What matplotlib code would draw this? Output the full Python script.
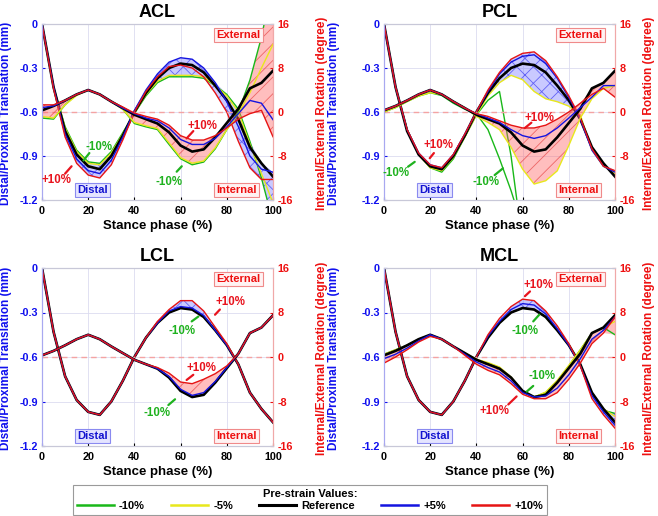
import numpy as np
import matplotlib
matplotlib.use("Agg")
import matplotlib.pyplot as plt
from matplotlib.lines import Line2D

plt.rcParams["font.family"] = ["Liberation Sans", "DejaVu Sans"]
plt.rcParams["font.weight"] = "bold"
plt.rcParams["axes.unicode_minus"] = False
plt.rcParams["hatch.linewidth"] = 0.6

nan = np.nan

# stance phase (%)
X = [0, 5, 10, 15, 20, 25, 30, 35, 40, 45, 50, 55, 60, 65, 70, 75, 80, 85, 90, 95, 100]

# reference model (same in every panel): translation (mm), rotation (degree)
REF_T = [0.00, -0.43, -0.73, -0.89, -0.97, -0.99, -0.90, -0.76, -0.60, -0.47, -0.37,
         -0.30, -0.27, -0.28, -0.33, -0.42, -0.52, -0.65, -0.84, -0.95, -1.04]
REF_R = [0.3, 1.1, 2.1, 3.2, 4.0, 3.2, 1.9, 0.7, -0.5, -1.3, -2.1,
         -3.7, -6.1, -7.2, -6.8, -4.6, -2.0, 0.6, 4.3, 5.3, 7.5]

# ACL
ACL_T_M10 = [0.00, -0.43, -0.70, -0.86, -0.94, -0.95, -0.87, -0.74, -0.61, -0.49, -0.40,
             -0.36, -0.36, -0.36, -0.37, -0.42, -0.48, -0.58, -0.80, -1.05, -1.35]
ACL_T_M5 = [0.00, -0.43, -0.71, -0.87, -0.95, -0.96, -0.88, -0.75, -0.61, -0.48, -0.39,
            -0.35, -0.35, -0.35, -0.36, -0.42, -0.49, -0.60, -0.82, -1.02, -1.22]
ACL_T_P5 = [0.00, -0.43, -0.75, -0.92, -1.00, -1.02, -0.93, -0.77, -0.59, -0.45, -0.34,
            -0.26, -0.23, -0.24, -0.30, -0.40, -0.53, -0.70, -0.90, -0.99, -1.01]
ACL_T_P10 = [0.00, -0.44, -0.77, -0.95, -1.03, -1.05, -0.96, -0.79, -0.60, -0.46, -0.36,
             -0.29, -0.28, -0.30, -0.36, -0.47, -0.60, -0.80, -0.98, -1.06, -1.06]
ACL_R_M10 = [-1.1, -1.3, 1.3, 3.2, 4.0, 3.2, 1.9, 0.5, -2.1, -2.7, -3.2,
             -5.9, -8.5, -9.6, -9.1, -6.7, -3.2, 0.0, 5.8, 13.6, 24.0]
ACL_R_M5 = [-0.8, -1.1, 1.3, 3.0, 4.0, 3.2, 1.9, 0.5, -1.9, -2.5, -3.0,
            -5.6, -8.3, -9.3, -8.9, -6.5, -3.2, -0.3, 3.5, 8.0, 12.3]
ACL_R_P5 = [0.8, 1.1, 2.1, 3.2, 4.0, 3.2, 1.9, 0.7, -0.3, -1.1, -1.6,
            -2.9, -5.0, -5.9, -5.9, -4.8, -2.7, -0.3, 2.1, 1.6, -1.4]
ACL_R_P10 = [1.3, 1.3, 2.1, 3.2, 4.0, 3.2, 1.9, 0.9, -0.2, -0.8, -1.3,
             -2.4, -4.3, -5.1, -5.1, -4.3, -2.9, -1.3, -0.3, 0.3, -4.5]

# PCL
PCL_T_M10 = [0.00, -0.43, -0.72, -0.89, -0.98, -1.01, -0.92, -0.77, -0.62, -0.52, -0.46,
             -0.90, -1.50, nan, nan, nan, nan, nan, nan, nan, nan]
PCL_T_M5 = [0.00, -0.43, -0.72, -0.89, -0.98, -1.00, -0.91, -0.77, -0.62, -0.49, -0.40,
            -0.35, -0.38, -0.46, -0.51, -0.53, -0.56, -0.62, -0.86, -0.97, -1.02]
PCL_T_P5 = [0.00, -0.43, -0.72, -0.88, -0.96, -0.98, -0.89, -0.75, -0.60, -0.46, -0.34,
            -0.26, -0.22, -0.21, -0.27, -0.37, -0.50, -0.65, -0.86, -0.97, -1.01]
PCL_T_P10 = [0.00, -0.43, -0.72, -0.88, -0.96, -0.98, -0.89, -0.75, -0.60, -0.45, -0.33,
             -0.24, -0.20, -0.19, -0.25, -0.36, -0.49, -0.64, -0.85, -0.97, -1.00]
PCL_R_M10 = [0.0, 0.8, 1.9, 2.9, 3.5, 3.0, 1.6, 0.5, -0.3, -3.2, -8.5,
             -14.3, -21.0, nan, nan, nan, nan, nan, nan, nan, nan]
PCL_R_M5 = [0.0, 0.8, 1.9, 2.9, 3.5, 3.2, 1.9, 0.8, -0.8, -1.9, -3.2,
            -6.4, -10.4, -13.1, -12.5, -10.7, -6.1, -1.1, 2.4, 4.3, 4.8]
PCL_R_P5 = [0.3, 1.1, 2.1, 3.2, 4.0, 3.2, 1.9, 0.7, -0.3, -1.1, -1.9,
            -3.2, -4.3, -4.8, -4.3, -2.9, -1.1, 0.8, 2.7, 4.8, 4.8]
PCL_R_P10 = [0.3, 1.1, 2.1, 3.2, 4.0, 3.2, 1.9, 0.7, -0.3, -0.8, -1.6,
             -2.4, -2.9, -2.9, -2.4, -1.3, 0.0, 1.6, 3.2, 4.3, 2.7]

# LCL
LCL_T_M10 = [0.00, -0.43, -0.73, -0.89, -0.97, -0.99, -0.90, -0.76, -0.60, -0.47, -0.37,
             -0.30, -0.27, -0.28, -0.33, -0.42, -0.52, -0.65, -0.84, -0.95, -1.04]
LCL_T_M5 = [0.00, -0.43, -0.73, -0.89, -0.97, -0.99, -0.90, -0.76, -0.60, -0.47, -0.37,
            -0.30, -0.27, -0.28, -0.33, -0.42, -0.52, -0.65, -0.84, -0.95, -1.04]
LCL_T_P5 = [0.00, -0.43, -0.73, -0.89, -0.97, -0.99, -0.90, -0.76, -0.60, -0.47, -0.37,
            -0.29, -0.26, -0.27, -0.32, -0.42, -0.52, -0.65, -0.84, -0.95, -1.04]
LCL_T_P10 = [0.00, -0.43, -0.73, -0.89, -0.97, -0.99, -0.90, -0.76, -0.60, -0.47, -0.36,
             -0.28, -0.22, -0.22, -0.29, -0.40, -0.51, -0.65, -0.84, -0.95, -1.04]
LCL_R_M10 = [0.3, 1.1, 2.1, 3.2, 4.0, 3.2, 1.9, 0.7, -0.5, -1.3, -2.1,
             -3.7, -6.1, -7.2, -6.8, -4.6, -2.0, 0.6, 4.3, 5.3, 7.5]
LCL_R_M5 = [0.3, 1.1, 2.1, 3.2, 4.0, 3.2, 1.9, 0.7, -0.5, -1.3, -2.1,
            -3.7, -6.1, -7.2, -6.8, -4.6, -2.0, 0.6, 4.3, 5.3, 7.5]
LCL_R_P5 = [0.3, 1.1, 2.1, 3.2, 4.0, 3.2, 1.9, 0.7, -0.5, -1.3, -2.1,
            -3.5, -5.8, -6.9, -6.4, -4.4, -1.9, 0.6, 4.3, 5.3, 7.5]
LCL_R_P10 = [0.3, 1.1, 2.1, 3.2, 4.0, 3.2, 1.9, 0.7, -0.5, -1.3, -1.9,
             -2.9, -4.5, -4.8, -4.0, -3.0, -1.6, 0.6, 4.3, 5.3, 7.5]

# MCL
MCL_T_M10 = [0.00, -0.43, -0.73, -0.89, -0.97, -0.99, -0.90, -0.76, -0.60, -0.47, -0.37,
             -0.30, -0.27, -0.28, -0.33, -0.42, -0.52, -0.65, -0.84, -0.96, -0.98]
MCL_T_M5 = [0.00, -0.43, -0.73, -0.89, -0.97, -0.99, -0.90, -0.76, -0.60, -0.47, -0.37,
            -0.30, -0.27, -0.28, -0.33, -0.42, -0.52, -0.65, -0.84, -0.95, -1.00]
MCL_T_P5 = [0.00, -0.43, -0.73, -0.89, -0.97, -0.99, -0.90, -0.76, -0.60, -0.46, -0.36,
            -0.28, -0.24, -0.25, -0.31, -0.41, -0.52, -0.66, -0.86, -0.97, -1.06]
MCL_T_P10 = [0.00, -0.43, -0.73, -0.89, -0.97, -0.99, -0.90, -0.76, -0.60, -0.45, -0.34,
             -0.26, -0.21, -0.22, -0.29, -0.39, -0.51, -0.66, -0.88, -0.99, -1.08]
MCL_R_M10 = [0.5, 1.3, 2.1, 3.2, 4.0, 3.2, 1.9, 0.7, -0.5, -1.1, -1.9,
             -3.7, -6.1, -7.2, -6.4, -4.3, -1.6, 1.3, 4.3, 5.3, 4.0]
MCL_R_M5 = [0.5, 1.3, 2.1, 3.2, 4.0, 3.2, 1.9, 0.7, -0.4, -1.0, -1.8,
            -3.6, -6.1, -7.2, -6.3, -4.2, -1.5, 1.3, 4.3, 5.3, 6.4]
MCL_R_P5 = [-0.3, 0.5, 1.6, 2.9, 4.0, 3.2, 1.9, 0.5, -0.9, -1.9, -2.7,
            -4.3, -6.4, -7.2, -7.0, -5.6, -3.2, -0.3, 3.2, 4.8, 7.2]
MCL_R_P10 = [-1.1, 0.0, 1.3, 2.7, 3.7, 3.2, 1.9, 0.3, -1.3, -2.4, -3.2,
             -4.8, -6.7, -7.5, -7.5, -6.4, -4.0, -1.1, 2.4, 4.3, 7.2]

STRAINS = ["-10%", "-5%", "Reference", "+5%", "+10%"]
COLORS = ["#19b819", "#e8e81c", "black", "#1414e0", "#e61414"]
WIDTHS = [1.0, 1.0, 1.9, 1.0, 1.0]

PANELS = ["ACL", "PCL", "LCL", "MCL"]
TRANS = {
    "ACL": [ACL_T_M10, ACL_T_M5, REF_T, ACL_T_P5, ACL_T_P10],
    "PCL": [PCL_T_M10, PCL_T_M5, REF_T, PCL_T_P5, PCL_T_P10],
    "LCL": [LCL_T_M10, LCL_T_M5, REF_T, LCL_T_P5, LCL_T_P10],
    "MCL": [MCL_T_M10, MCL_T_M5, REF_T, MCL_T_P5, MCL_T_P10],
}
ROT = {
    "ACL": [ACL_R_M10, ACL_R_M5, REF_R, ACL_R_P5, ACL_R_P10],
    "PCL": [PCL_R_M10, PCL_R_M5, REF_R, PCL_R_P5, PCL_R_P10],
    "LCL": [LCL_R_M10, LCL_R_M5, REF_R, LCL_R_P5, LCL_R_P10],
    "MCL": [MCL_R_M10, MCL_R_M5, REF_R, MCL_R_P5, MCL_R_P10],
}
# PCL -10% run failed, so it is left out of the shaded range
FILL_ROWS = {"ACL": [0, 1, 2, 3, 4], "PCL": [1, 2, 3, 4],
             "LCL": [0, 1, 2, 3, 4], "MCL": [0, 1, 2, 3, 4]}

# labels: text, colour, text position, line start, line end (x in %, y in mm)
NOTES = {
    "ACL": [("-10%", "g", (24.7, -0.836), (20.5, -0.88), (18.0, -0.93)),
            ("+10%", "r", (6.3, -1.063), (10.0, -1.02), (12.8, -0.97)),
            ("+10%", "r", (69.5, -0.695), (65.5, -0.73), (62.6, -0.78)),
            ("-10%", "g", (55.0, -1.075), (58.3, -1.007), (60.5, -0.97))],
    "PCL": [("+10%", "r", (23.4, -0.825), (21.6, -0.88), (19.8, -0.915)),
            ("-10%", "g", (5.3, -1.018), (10.4, -0.973), (13.3, -0.94)),
            ("-10%", "g", (44.3, -1.075), (47.9, -1.03), (51.5, -0.984)),
            ("+10%", "r", (67.4, -0.643), (63.8, -0.673), (60.9, -0.71))],
    "LCL": [("+10%", "r", (81.4, -0.232), (77.0, -0.28), (74.9, -0.315)),
            ("-10%", "g", (60.5, -0.428), (64.8, -0.36), (67.7, -0.327)),
            ("+10%", "r", (69.1, -0.676), (65.5, -0.72), (62.6, -0.755)),
            ("-10%", "g", (50.0, -0.98), (54.7, -0.924), (57.6, -0.885))],
    "MCL": [("+10%", "r", (66.8, -0.113), (63.2, -0.158), (61.0, -0.19)),
            ("-10%", "g", (61.0, -0.427), (64.6, -0.36), (67.2, -0.315)),
            ("-10%", "g", (68.3, -0.73), (64.6, -0.795), (61.8, -0.833)),
            ("+10%", "r", (48.0, -0.967), (53.8, -0.92), (57.4, -0.866))],
}
NOTE_COLORS = {"g": "#1fb21f", "r": "#e8141e"}

W, H = 658, 516
AX_POS = {
    "ACL": [42 / W, 1 - 200 / H, 231 / W, 176 / H],
    "PCL": [384 / W, 1 - 200 / H, 231 / W, 176 / H],
    "LCL": [42 / W, 1 - 446 / H, 231 / W, 178 / H],
    "MCL": [384 / W, 1 - 446 / H, 231 / W, 178 / H],
}
# y-label anchor distance from the axes (px): (left label, right label)
LABEL_OFF = {"ACL": (30, 43), "PCL": (44, 28), "LCL": (30, 43), "MCL": (44, 28)}

fig = plt.figure(figsize=(W / 100, H / 100), dpi=100)

for name in PANELS:
    ax = fig.add_axes(AX_POS[name])
    ax2 = ax.twinx()

    T = np.array(TRANS[name], dtype=float)
    R = np.array(ROT[name], dtype=float)
    rows = FILL_ROWS[name]

    # translation (left axis)
    ax.fill_between(X, np.nanmin(T[rows], axis=0), np.nanmax(T[rows], axis=0),
                    facecolor=(0.45, 0.45, 1.0, 0.38), edgecolor=(0.25, 0.25, 0.95, 0.75),
                    hatch="xx", linewidth=0, zorder=1)
    for arr, c, lw in zip(T, COLORS, WIDTHS):
        ax.plot(X, arr, color=c, lw=lw, zorder=2)

    # rotation (right axis)
    ax2.axhline(0, color="#f4a3a3", lw=1.0, ls=(0, (4, 3)), zorder=0)
    ax2.fill_between(X, np.nanmin(R[rows], axis=0), np.nanmax(R[rows], axis=0),
                     facecolor=(1.0, 0.4, 0.4, 0.42), edgecolor=(0.9, 0.25, 0.25, 0.7),
                     hatch="//", linewidth=0, zorder=1)
    for arr, c, lw in zip(R, COLORS, WIDTHS):
        ax2.plot(X, arr, color=c, lw=lw, zorder=2)

    ax.set_xlim(0, 100)
    ax.set_ylim(-1.2, 0)
    ax2.set_ylim(-16, 16)
    ax.set_xticks([0, 20, 40, 60, 80, 100])
    ax.set_yticks([-1.2, -0.9, -0.6, -0.3, 0])
    ax.set_yticklabels(["-1.2", "-0.9", "-0.6", "-0.3", "0"])
    ax2.set_yticks([-16, -8, 0, 8, 16])
    ax.grid(True, color="#dcdcf0", lw=0.6)
    ax.set_axisbelow(True)

    ax.tick_params(axis="x", labelsize=7.8, pad=4, length=2, direction="in")
    ax.tick_params(axis="y", labelsize=7.8, labelcolor="#1010ee", pad=3, length=2,
                   direction="in", colors="#1010ee")
    ax2.tick_params(axis="y", labelsize=7.8, labelcolor="#ee1010", pad=3, length=2,
                    direction="in", colors="#ee1010")
    for lab in ax.get_xticklabels() + ax.get_yticklabels() + ax2.get_yticklabels():
        lab.set_fontweight("bold")

    for a in (ax, ax2):
        a.spines["left"].set_color("#a8a8f0")
        a.spines["right"].set_color("#f0a8a8")
        a.spines["top"].set_color("#c8c8d8")
        a.spines["bottom"].set_color("#c8c8d8")

    left_off, right_off = LABEL_OFF[name]
    ax.set_title(name, fontsize=13, fontweight="bold", pad=5)
    ax.set_xlabel("Stance phase (%)", fontsize=9.5, fontweight="bold", labelpad=3)
    ax.set_ylabel("Distal/Proximal Translation (mm)", fontsize=8.5, fontweight="bold",
                  color="#1010ee")
    ax.yaxis.set_label_coords(-left_off / 231, 0.49)
    ax2.set_ylabel("Internal/External Rotation (degree)", fontsize=8.5, fontweight="bold",
                   color="#ee1010")
    ax2.yaxis.set_label_coords(1 + right_off / 231, 0.49)

    # direction boxes
    ax2.text(85, -0.075, "External", transform=ax.transData, color="#ee1010",
             fontsize=8, fontweight="bold", ha="center", va="center", zorder=5,
             bbox=dict(boxstyle="square,pad=0.2", fc="#fff2f2", ec="#f08a8a", lw=0.8))
    ax2.text(84.3, -1.132, "Internal", transform=ax.transData, color="#ee1010",
             fontsize=8, fontweight="bold", ha="center", va="center", zorder=5,
             bbox=dict(boxstyle="square,pad=0.2", fc="#fff2f2", ec="#f08a8a", lw=0.8))
    ax2.text(22, -1.132, "Distal", transform=ax.transData, color="#1414d0",
             fontsize=8, fontweight="bold", ha="center", va="center", zorder=5,
             bbox=dict(boxstyle="square,pad=0.2", fc="#e4e4ff", ec="#8a8af0", lw=0.8))

    for txt, ck, txy, p0, p1 in NOTES[name]:
        col = NOTE_COLORS[ck]
        ax2.text(txy[0], txy[1], txt, transform=ax.transData, color=col, fontsize=8.3,
                 fontweight="bold", ha="center", va="center", zorder=6)
        ax2.annotate("", xy=p1, xytext=p0, xycoords=ax.transData, textcoords=ax.transData,
                     arrowprops=dict(arrowstyle="-", color=col, lw=1.6,
                                     shrinkA=0, shrinkB=0), zorder=6)

handles = [Line2D([], [], color=c, lw=(2.2 if s == "Reference" else 1.8))
           for s, c in zip(STRAINS, COLORS)]
leg = fig.legend(handles, STRAINS, loc="lower left", ncol=5, mode="expand",
                 bbox_to_anchor=(73 / W, 1 - 515 / H, 474 / W, 35 / H),
                 title="Pre-strain Values:", prop={"weight": "bold", "size": 8},
                 title_fontproperties={"weight": "bold", "size": 8},
                 frameon=True, fancybox=False, edgecolor="#9a9a9a", framealpha=1,
                 handlelength=3.3, handletextpad=0.5, borderaxespad=0, borderpad=0.35,
                 labelspacing=0.2)
leg.get_frame().set_linewidth(0.8)

fig.savefig("out.png", dpi=100)
